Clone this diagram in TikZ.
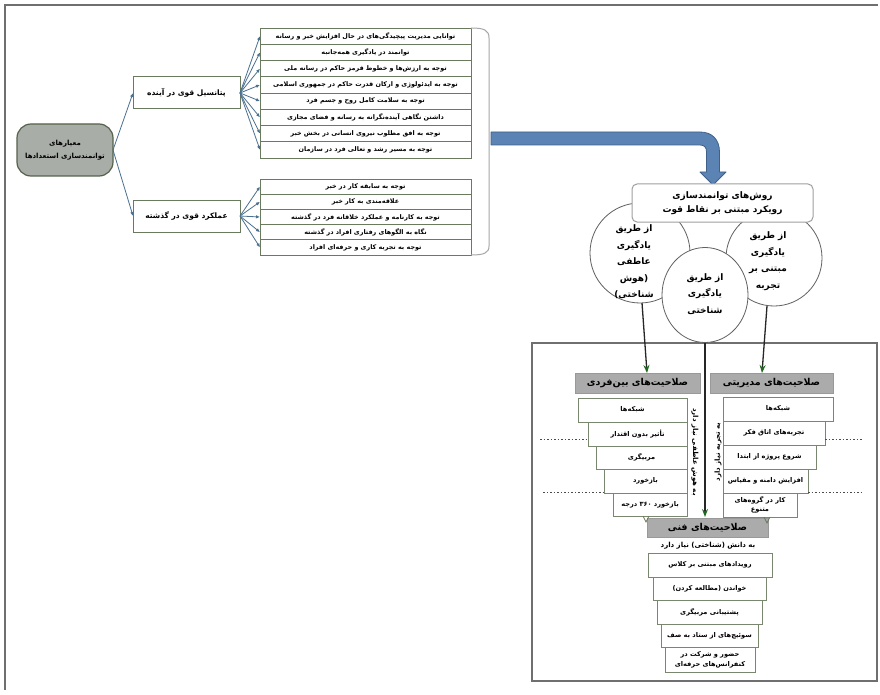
\documentclass[tikz,border=0pt]{standalone}
\usepackage{fontspec}
\usetikzlibrary{arrows.meta,shapes.geometric}
\newfontfamily\arabicfont[Script=Arabic]{DejaVu Sans}
\TeXXeTstate=1
\newcommand{\fa}[1]{{\arabicfont\beginR #1\endR}}
\definecolor{rowc}{HTML}{6A7A5E}
\definecolor{framec}{HTML}{6F6F6F}
\definecolor{larrc}{HTML}{4A7090}
\definecolor{bigarr}{HTML}{5B83B3}
\definecolor{bigarrd}{HTML}{3F6088}
\definecolor{hdrc}{HTML}{ABABAB}
\definecolor{rootc}{HTML}{A9ADA8}
\definecolor{grn}{HTML}{1F6A1F}
\begin{document}
\begin{tikzpicture}[x=1pt,y=-1pt,
  every node/.style={inner sep=0pt, outer sep=0pt},
  rowbox/.style={draw=rowc, line width=0.9pt, fill=white, anchor=north west, align=center, font=\fontsize{6.4}{8}\bfseries},
  catbox/.style={draw=rowc, line width=1pt, fill=white, minimum width=107, minimum height=32, font=\fontsize{7.5}{9}\bfseries},
  rootbox/.style={draw=rowc!80!black, line width=1.2pt, fill=rootc, rounded corners=14pt, minimum width=96, minimum height=52, align=center, font=\fontsize{7}{13}\bfseries},
  larr/.style={draw=larrc, line width=0.8pt, -{Latex[length=4pt,width=3.5pt]}},
  hdr/.style={draw=gray!80, line width=0.8pt, fill=hdrc, anchor=north west, minimum height=20, font=\fontsize{9.5}{11}\bfseries},
  stair/.style={draw=rowc!90, line width=1pt, fill=white, anchor=north west, align=center, font=\fontsize{6.6}{9.5}\bfseries},
  circ/.style={circle, draw=gray!75!black, line width=0.8pt, fill=white},
  ctext/.style={align=center, font=\fontsize{9}{16.5}\bfseries},
  garr/.style={draw=black!85, line width=1.3pt, -{Stealth[length=8pt,width=6pt,color=grn]}},
  dots/.style={draw=black!70, line width=0.8pt, dash pattern=on 1.5pt off 2pt}
]
\useasboundingbox (0,0) rectangle (880,695);
\fill[white] (0,0) rectangle (880,695);
% frame
\draw[framec, line width=1.4pt] (878,5) -- (5,5) -- (5,690);
\draw[framec, line width=1.4pt] (532,681) -- (532,343) -- (877,343) -- (877,681) -- cycle;

% root and categories
\node[rootbox] (root) at (65,150) {\fa{معیارهای}\\\fa{توانمندسازی استعدادها}};
\node[catbox] (pot) at (186.5,93) {\fa{پتانسیل قوی در آینده}};
\node[catbox] (past) at (186.5,216) {\fa{عملکرد قوی در گذشته}};
\draw[larr] (root.east) -- (pot.west);
\draw[larr] (root.east) -- (past.west);

% list 1
\foreach \i/\t in {1/{توانایی مدیریت پیچیدگی‌های در حال افزایش خبر و رسانه},
                   2/{توانمند در یادگیری همه‌جانبه},
                   3/{توجه به ارزش‌ها و خطوط قرمز حاکم در رسانه ملی},
                   4/{توجه به ایدئولوژی و ارکان قدرت حاکم در جمهوری اسلامی},
                   5/{توجه به سلامت کامل روح و جسم فرد},
                   6/{داشتن نگاهی آینده‌نگرانه به رسانه و فضای مجازی},
                   7/{توجه به افق مطلوب نیروی انسانی در بخش خبر},
                   8/{توجه به مسیر رشد و تعالی فرد در سازمان}}{
  \node[rowbox, minimum width=211, minimum height=16.25] (f\i) at (260,{28+(\i-1)*16.25}) {\fa{\t}};
  \draw[larr] (pot.east) -- (f\i.west);
}
% list 2
\foreach \i/\t in {1/{توجه به سابقه کار در خبر},
                   2/{علاقه‌مندی به کار خبر},
                   3/{توجه به کارنامه و عملکرد خلاقانه فرد در گذشته},
                   4/{نگاه به الگوهای رفتاری افراد در گذشته},
                   5/{توجه به تجربه کاری و حرفه‌ای افراد}}{
  \node[rowbox, minimum width=211, minimum height=15.2] (g\i) at (260,{179+(\i-1)*15.2}) {\fa{\t}};
  \draw[larr] (past.east) -- (g\i.west);
}
% bracket
\draw[gray!70, line width=1pt] (f1.north east) .. controls (484,28) and (489,30) .. (489,38) -- (489,246) .. controls (489,253) and (484,255) .. (g5.south east);

% big arrow
\draw[bigarrd, fill=bigarr, line width=0.8pt, line join=round]
  (491,132) -- (700,132) .. controls (712,132) and (719.5,139.5) .. (719.5,152) -- (719.5,172)
  -- (726,172) -- (713,185) -- (700,172) -- (706.5,172) -- (706.5,152)
  .. controls (706.5,147.5) and (704.5,145) .. (700,145) -- (491,145) -- cycle;

% circles
\node[circ, minimum size=100] (lc) at (640,253) {};
\node[circ, minimum size=96] (rc) at (774,258) {};
\node[ellipse, draw=gray!75!black, line width=0.8pt, fill=white, minimum width=86, minimum height=95] (mc) at (705,295) {};
\node[ctext] (lct) at (634,262) {\fa{از طریق}\\\fa{یادگیری}\\\fa{عاطفی}\\\fa{(هوش}\\\fa{شناختی)}};
\node[ctext] (rct) at (768,261) {\fa{از طریق}\\\fa{یادگیری}\\\fa{مبتنی بر}\\\fa{تجربه}};
\node[ctext] (mct) at (705,294) {\fa{از طریق}\\\fa{یادگیری}\\\fa{شناختی}};
% top box
\node[draw=gray!75, line width=1pt, fill=white, rounded corners=5pt, minimum width=181, minimum height=38, align=center, font=\fontsize{9}{14}\bfseries] (tb) at (722.5,203) {\fa{روش‌های توانمندسازی}\\\fa{رویکرد مبتنی بر نقاط قوت}};

% headers
\node[hdr, minimum width=125] (ip) at (575,373) {\fa{صلاحیت‌های بین‌فردی}};
\node[hdr, minimum width=123] (mg) at (710,373) {\fa{صلاحیت‌های مدیریتی}};
\coordinate (ipin) at (647,373);
\coordinate (mgin) at (762,373);
\draw[garr] (lc.south) ++(2,0) -- (ipin);
\draw[garr] (rc.south) ++(-7,0) -- (mgin);

% interpersonal stair
\node[stair, minimum width=109, minimum height=24] (i1) at (578,398) {\fa{شبکه‌ها}};
\node[stair, minimum width=99, minimum height=24] (i2) at (588,422) {\fa{تأثیر بدون اقتدار}};
\node[stair, minimum width=91, minimum height=23] (i3) at (596,446) {\fa{مربیگری}};
\node[stair, minimum width=83, minimum height=24] (i4) at (604,469) {\fa{بازخورد}};
\node[stair, minimum width=74, minimum height=23] (i5) at (613,493) {\fa{بازخورد ۳۶۰ درجه}};
% managerial stair
\node[stair, minimum width=110, minimum height=24] (m1) at (723,397) {\fa{شبکه‌ها}};
\node[stair, minimum width=102, minimum height=24] (m2) at (723,421) {\fa{تجربه‌های اتاق فکر}};
\node[stair, minimum width=93, minimum height=24] (m3) at (723,445) {\fa{شروع پروژه از ابتدا}};
\node[stair, minimum width=85, minimum height=24] (m4) at (723,469) {\fa{افزایش دامنه و مقیاس}};
\node[stair, minimum width=74, minimum height=24, font=\fontsize{6.6}{9}\bfseries] (m5) at (723,493) {\fa{کار در گروه‌های}\\\fa{متنوع}};

% dotted guide lines
\draw[dots] (540,439) -- (i2.west |- 0,439);
\draw[dots] (543,492) -- (i4.west |- 0,492);
\draw[dots] (m2.east |- 0,439) -- (862,439);
\draw[dots] (m4.east |- 0,492) -- (862,492);

% vertical notes
\node[rotate=-90, font=\fontsize{7}{8}\bfseries] (vl) at (695,452) {\fa{به هوش عاطفی نیاز دارد}};
\node[rotate=90, font=\fontsize{7}{8}\bfseries] (vr) at (718,452) {\fa{به تجربه نیاز دارد}};

% technical
\node[hdr, minimum width=121, minimum height=19] (tc) at (647,518) {\fa{صلاحیت‌های فنی}};
\coordinate (tcin) at (705,517);
\draw[garr] (mc.south) -- (tcin);
\draw[rowc, line width=0.8pt] (i5.south west) ++(30,0) coordinate (ya) -- ++(3,6) -- ++(3,-6);
\draw[rowc, line width=0.8pt] (m5.south east) ++(-33,0) coordinate (yb) -- ++(3,6) -- ++(3,-6);
\node[font=\fontsize{7}{8}\bfseries] (tn) at (708,546) {\fa{به دانش (شناختی) نیاز دارد}};
\node[stair, minimum width=124, minimum height=24] (t1) at (648,553) {\fa{رویدادهای مبتنی بر کلاس}};
\node[stair, minimum width=113, minimum height=23] (t2) at (653,577) {\fa{خواندن (مطالعه کردن)}};
\node[stair, minimum width=105, minimum height=24] (t3) at (657,600) {\fa{پشتیبانی مربیگری}};
\node[stair, minimum width=97, minimum height=23] (t4) at (661,624) {\fa{سوئیچ‌های از ستاد به صف}};
\node[stair, minimum width=90, minimum height=25, font=\fontsize{6.6}{10}\bfseries] (t5) at (665,647) {\fa{حضور و شرکت در}\\\fa{کنفرانس‌های حرفه‌ای}};
\end{tikzpicture}
\end{document}
